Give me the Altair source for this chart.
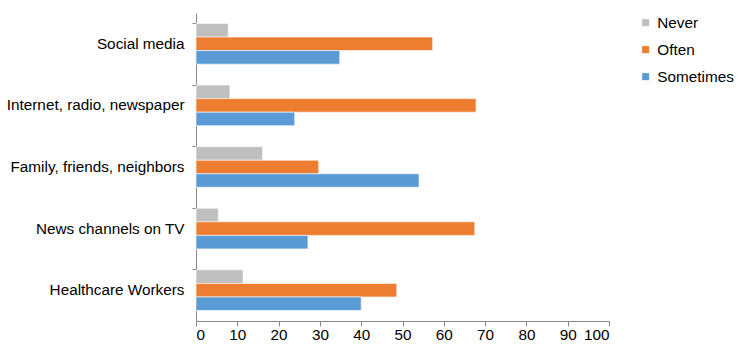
import altair as alt
import pandas as pd

categories = ["Social media", "Internet, radio, newspaper", "Family, friends, neighbors",
              "News channels on TV", "Healthcare Workers"]
series = ["Never", "Often", "Sometimes"]
never = [7.8, 8.2, 16.1, 5.4, 11.4]
often = [57.3, 67.8, 29.7, 67.5, 48.6]
sometimes = [34.8, 23.9, 54.0, 27.1, 40.0]
colors = ["#BFBFBF", "#ED7D31", "#5B9BD5"]
x_ticks = list(range(0, 101, 10))

rows = []
for i, c in enumerate(categories):
    for s, vals in zip(series, [never, often, sometimes]):
        rows.append({"category": c, "series": s, "value": vals[i]})
df = pd.DataFrame(rows)

FONT = "Liberation Sans"
FS = 15.3

chart = alt.Chart(df).mark_bar(stroke="white", strokeWidth=0.6).encode(
    y=alt.Y("category:N", sort=categories, title=None,
            scale=alt.Scale(paddingInner=0.34, paddingOuter=0.17),
            axis=alt.Axis(bandPosition=0, tickSize=4, labelPadding=8, labelFontSize=FS,
                          labelColor="#000000", domainColor="#888888", tickColor="#888888",
                          labelFont=FONT, labelLimit=300)),
    yOffset=alt.YOffset("series:N", sort=series),
    x=alt.X("value:Q", title=None,
            scale=alt.Scale(domain=[0, 100], nice=False),
            axis=alt.Axis(values=x_ticks, grid=False, tickSize=5, labelPadding=1,
                          labelFontSize=FS, labelColor="#000000", labelFont=FONT,
                          domainColor="#888888", tickColor="#888888")),
    color=alt.Color("series:N", sort=series,
                    scale=alt.Scale(domain=series, range=colors),
                    legend=alt.Legend(title=None, orient="none", legendX=442, legendY=2,
                                      symbolType="square", symbolSize=50, symbolStrokeWidth=0,
                                      labelFontSize=FS, labelFont=FONT, labelColor="#000000",
                                      rowPadding=11, labelOffset=4)),
).properties(
    width=413, height=308,
    autosize=alt.AutoSizeParams(type="none"),
    padding={"left": 196, "top": 13, "right": 138, "bottom": 31},
).configure_view(stroke=None)

chart.save("out.html", embed_options={"renderer": "svg", "actions": False})
